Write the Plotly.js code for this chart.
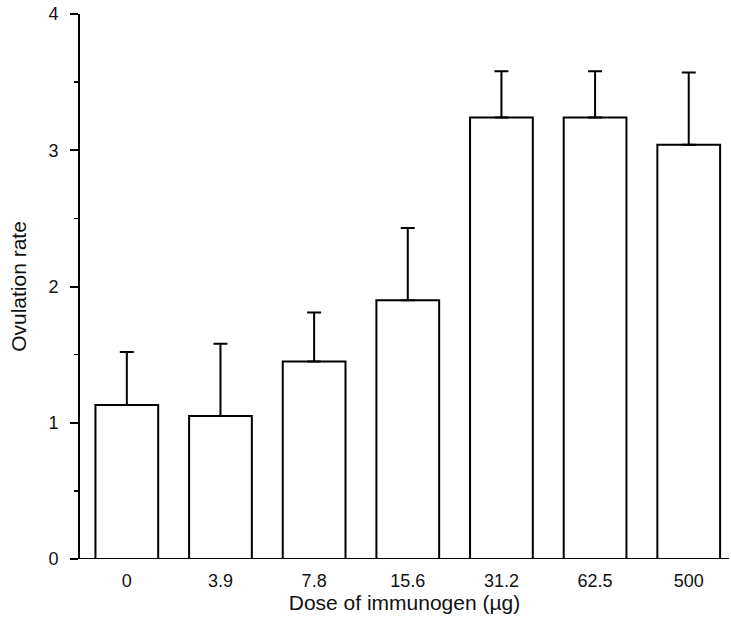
<!DOCTYPE html>
<html>
<head>
<meta charset="utf-8">
<script src="https://cdn.plot.ly/plotly-3.0.1.min.js"></script>
<style>html,body{margin:0;padding:0;background:#fff}#chart{width:731px;height:621px}</style>
</head>
<body>
<div id="chart"></div>
<script>
var doses = ["0", "3.9", "7.8", "15.6", "31.2", "62.5", "500"];
var ovulationRate = [1.13, 1.05, 1.45, 1.90, 3.24, 3.24, 3.04];
var errorUp = [0.39, 0.53, 0.36, 0.53, 0.34, 0.34, 0.53];
var errorDown = [0, 0, 0, 0, 0, 0, 0];
var yTicks = [0, 1, 2, 3, 4];

var trace = {
  type: 'bar',
  x: doses,
  y: ovulationRate,
  marker: {color: '#ffffff', line: {color: '#000000', width: 2}},
  error_y: {type: 'data', array: errorUp, arrayminus: errorDown, symmetric: false,
            color: '#000000', thickness: 2, width: 7},
  hoverinfo: 'none'
};

var layout = {
  width: 731, height: 621,
  margin: {l: 80, r: 2, t: 14, b: 62},
  paper_bgcolor: '#ffffff', plot_bgcolor: '#ffffff',
  bargap: 0.33,
  showlegend: false,
  font: {family: 'Liberation Sans, Arial, sans-serif', color: '#111111', size: 18},
  xaxis: {
    type: 'category',
    range: [-0.5, 6.43],
    showline: false, showgrid: false, zeroline: false,
    ticks: '', ticklabelstandoff: 9,
    tickfont: {size: 18},
    title: {text: 'Dose of immunogen (µg)', font: {size: 21}, standoff: 4}
  },
  yaxis: {
    range: [0, 4],
    tickvals: yTicks,
    ticktext: yTicks.map(String),
    showline: true, linecolor: '#000000', linewidth: 2,
    showgrid: false, zeroline: false,
    ticks: 'outside', ticklen: 8, tickwidth: 2, tickcolor: '#000000',
    ticklabelstandoff: 8,
    minor: {dtick: 0.5, tick0: 0, ticks: 'outside', ticklen: 4, tickwidth: 1.5, tickcolor: '#000000'},
    tickfont: {size: 18},
    title: {text: 'Ovulation rate', font: {size: 21}, standoff: 16}
  },
  shapes: [{
    type: 'line', xref: 'paper', yref: 'y',
    x0: -8/649, x1: 1, y0: 0, y1: 0,
    line: {color: '#000000', width: 2}
  }]
};

Plotly.newPlot('chart', [trace], layout, {displayModeBar: false, staticPlot: true});
</script>
</body>
</html>
